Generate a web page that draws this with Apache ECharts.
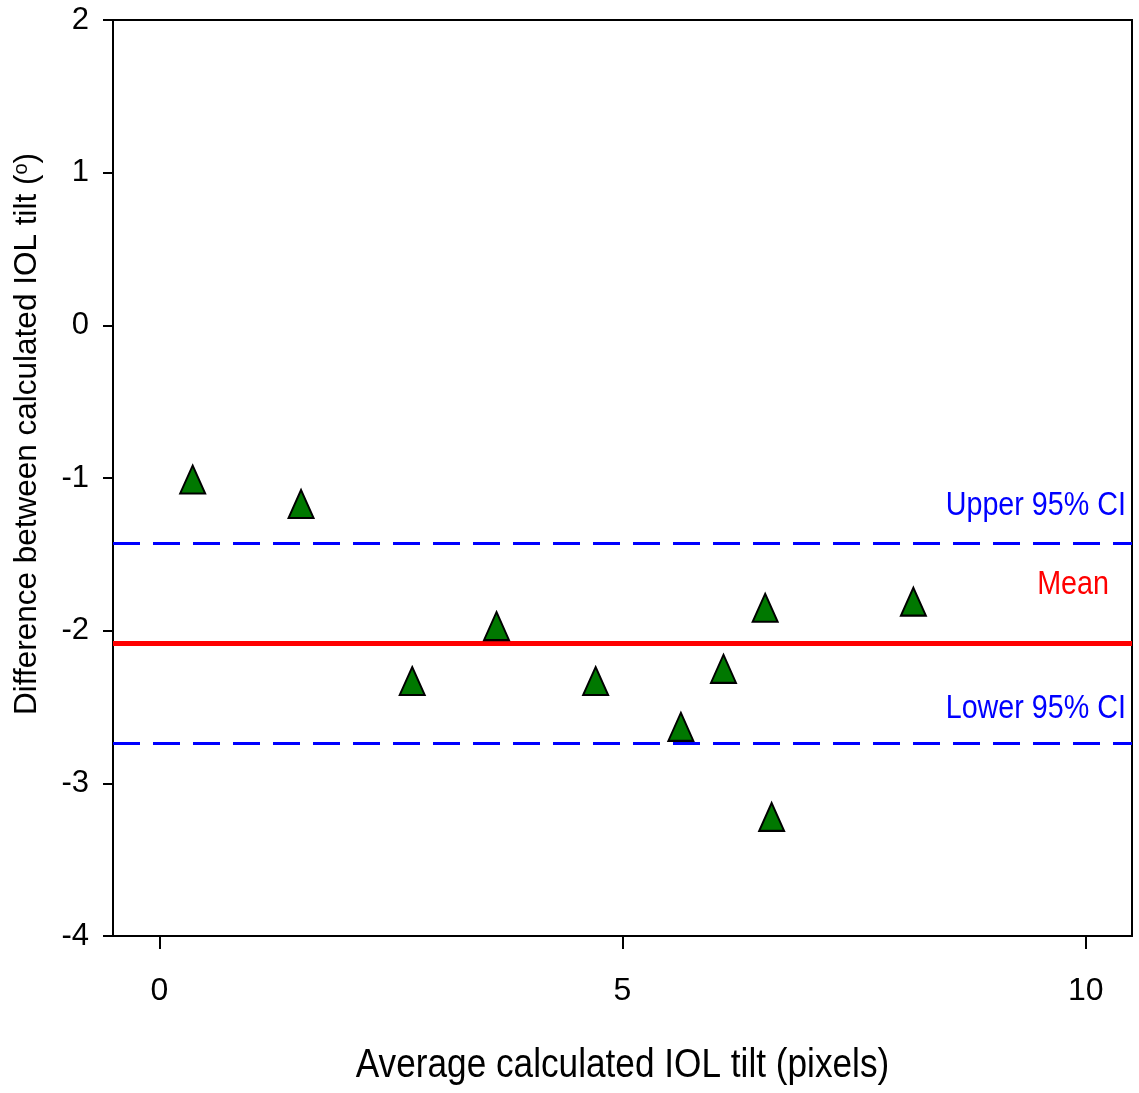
<!DOCTYPE html>
<html>
<head>
<meta charset="utf-8">
<script src="https://cdn.jsdelivr.net/npm/echarts@6/dist/echarts.min.js"></script>
<style>
  html, body { margin: 0; padding: 0; background: #fff; }
  #chart { width: 1139px; height: 1093px; }
</style>
</head>
<body>
<div id="chart"></div>
<script>
// Bland-Altman style data
var avgTilt = [0.36, 1.53, 2.73, 3.64, 4.71, 5.63, 6.09, 6.54, 6.61, 8.14];
var diffTilt = [-1.01, -1.17, -2.33, -1.97, -2.33, -2.63, -2.25, -1.85, -3.22, -1.81];

// reference lines
var meanDiff = -2.08;
var upperCI = -1.43;
var lowerCI = -2.74;
var lineNames = ['Upper 95% CI', 'Mean', 'Lower 95% CI'];

var xTicks = [0, 5, 10];

var font = '"Liberation Sans", Arial, sans-serif';
// the original uses a condensed face, squeeze regular text a bit
var squeeze = 0.87;

var points = [];
for (var i = 0; i < avgTilt.length; i++) {
    points.push([avgTilt[i], diffTilt[i]]);
}

var dom = document.getElementById('chart');
var myChart = echarts.init(dom);

var option = {
    animation: false,
    backgroundColor: '#ffffff',
    grid: {
        left: 113,
        right: 7,
        top: 20,
        bottom: 157,
        show: true,
        borderColor: '#000',
        borderWidth: 2
    },
    xAxis: {
        type: 'value',
        min: -0.5,
        max: 10.5,
        axisLine: { onZero: false, lineStyle: { color: '#000', width: 2 } },
        axisTick: { show: true, customValues: xTicks, length: 13, lineStyle: { color: '#000', width: 2 } },
        axisLabel: { customValues: xTicks, margin: 39, fontFamily: font, fontSize: 32, color: '#000' },
        splitLine: { show: false }
    },
    yAxis: {
        type: 'value',
        min: -4,
        max: 2,
        interval: 1,
        axisLine: { onZero: false, lineStyle: { color: '#000', width: 2 } },
        axisTick: { show: true, length: 10, lineStyle: { color: '#000', width: 2 } },
        axisLabel: { margin: 24, fontFamily: font, fontSize: 31, color: '#000' },
        splitLine: { show: false }
    },
    series: [{
        name: 'Difference',
        type: 'scatter',
        symbol: 'triangle',
        symbolSize: [25, 28],
        itemStyle: { color: '#007800', opacity: 1, borderColor: '#000', borderWidth: 2 },
        data: points,
        z: 5,
        markLine: {
            silent: true,
            symbol: 'none',
            animation: false,
            label: { show: false },
            data: [
                { yAxis: upperCI, lineStyle: { color: '#0000ff', width: 3, type: [27, 13] } },
                { yAxis: meanDiff, lineStyle: { color: '#ff0000', width: 5, type: 'solid' } },
                { yAxis: lowerCI, lineStyle: { color: '#0000ff', width: 3, type: [27, 13] } }
            ]
        }
    }]
};

myChart.setOption(option, true);

// text placed after the scales exist
function yPix(v) {
    return myChart.convertToPixel({ gridIndex: 0 }, [0, v])[1];
}
var xMid = (myChart.convertToPixel({ gridIndex: 0 }, [-0.5, 0])[0] +
            myChart.convertToPixel({ gridIndex: 0 }, [10.5, 0])[0]) / 2;

myChart.setOption({
    graphic: [
        {
            type: 'text', x: 27, y: 434, rotation: Math.PI / 2,
            style: {
                text: 'Difference between calculated IOL tilt ({sup|o})',
                fontFamily: font, fontSize: 31.5, fill: '#000',
                align: 'center', verticalAlign: 'middle',
                rich: { sup: { fontFamily: font, fontSize: 20, verticalAlign: 'top', fill: '#000' } }
            }
        },
        {
            type: 'text', x: xMid, y: 1066, scaleX: 0.88,
            style: {
                text: 'Average calculated IOL tilt (pixels)',
                fontFamily: font, fontSize: 40, fill: '#000',
                align: 'center', verticalAlign: 'middle'
            }
        },
        {
            type: 'text', x: 1126, y: yPix(upperCI) - 38, scaleX: squeeze,
            style: { text: lineNames[0], fontFamily: font, fontSize: 33, fill: '#0000ff',
                     align: 'right', verticalAlign: 'middle' }
        },
        {
            type: 'text', x: 1109, y: yPix(meanDiff) - 58, scaleX: squeeze,
            style: { text: lineNames[1], fontFamily: font, fontSize: 33, fill: '#ff0000',
                     align: 'right', verticalAlign: 'middle' }
        },
        {
            type: 'text', x: 1126, y: yPix(lowerCI) - 35, scaleX: squeeze,
            style: { text: lineNames[2], fontFamily: font, fontSize: 33, fill: '#0000ff',
                     align: 'right', verticalAlign: 'middle' }
        }
    ]
});
</script>
</body>
</html>
